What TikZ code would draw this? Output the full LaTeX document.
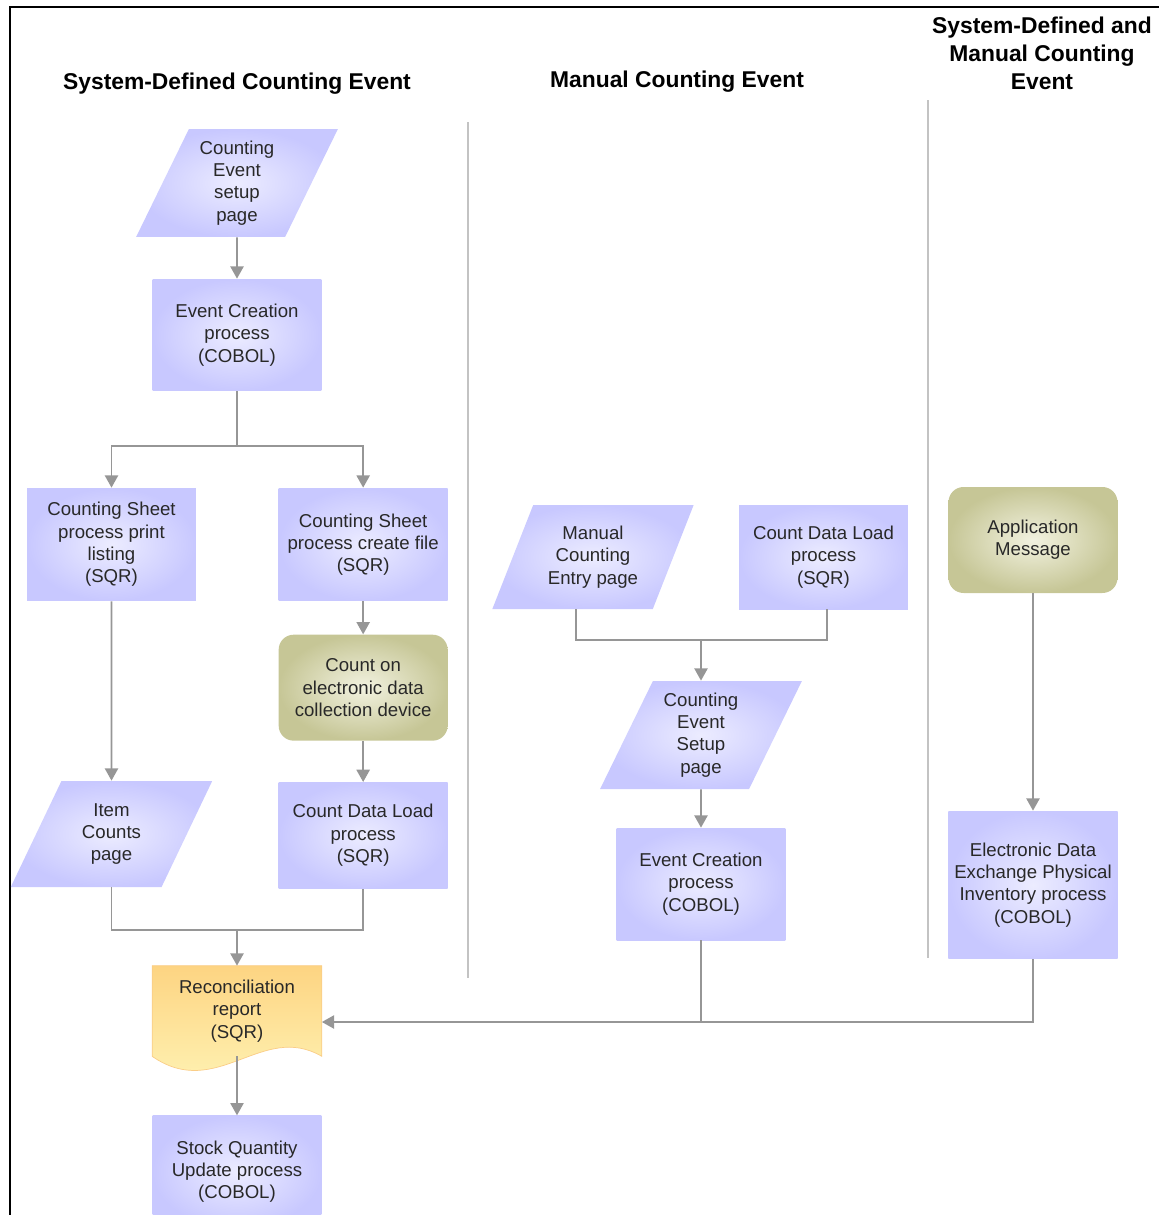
\documentclass[tikz,border=0pt]{standalone}
\usepackage{fontspec}
\setmainfont{Liberation Sans}
\usepackage{tikz}
\usetikzlibrary{arrows.meta,positioning,shapes.geometric,backgrounds,calc}
\definecolor{lavin}{RGB}{236,236,255}
\definecolor{lavout}{RGB}{200,200,255}
\definecolor{olvin}{RGB}{242,242,224}
\definecolor{olvout}{RGB}{198,198,150}
\definecolor{doctop}{RGB}{253,212,130}
\definecolor{docbot}{RGB}{255,246,185}
\definecolor{docedge}{RGB}{250,205,135}
\definecolor{flowgray}{RGB}{150,150,150}
\definecolor{sepgray}{RGB}{195,195,195}
\definecolor{ink}{RGB}{40,40,40}

\begin{document}
\begin{tikzpicture}[
  x=0.02cm, y=-0.02cm,
  every node/.style={font=\fontsize{10.6}{12.7}\selectfont, text=ink},
  proc/.style={rectangle, shade, inner color=lavin, outer color=lavout, minimum width=3.38cm, minimum height=2.24cm, align=center},
  page/.style={trapezium, trapezium left angle=64, trapezium right angle=116, trapezium stretches=true, shade, inner color=lavin, outer color=lavout, minimum width=4.05cm, minimum height=2.16cm, align=center, inner sep=1pt},
  device/.style={rectangle, rounded corners=0.3cm, shade, inner color=olvin, outer color=olvout, minimum width=3.38cm, minimum height=2.12cm, align=center},
  report/.style={rectangle, minimum width=3.38cm, minimum height=1.8cm, align=center},
  title/.style={font=\fontsize{13}{16}\selectfont\bfseries, text=black, align=center},
  flow/.style={draw=flowgray, line width=1.1pt},
  arr/.style={flow, -{Triangle[length=7pt,width=7.5pt]}},
  sep/.style={draw=sepgray, line width=1.1pt}
]
\useasboundingbox (0,0) rectangle (1159,1215);
\draw[line width=1.1pt] (1159,7) -- (10,7) -- (10,1215);

% column headings
\node[title] (t1) at (237,84) {System-Defined Counting Event};
\node[title] (t2) at (677,82) {Manual Counting Event};
\node[title] (t3) at (1042,53) {System-Defined and\\Manual Counting\\Event};
\draw[sep] (468,122) -- (468,978);
\draw[sep] (928,100) -- (928,958);

% system-defined
\node[page] (p1) at (237,183) {Counting\\Event\\setup\\page};
\node[proc] (r1) at (237,335) {Event Creation\\process\\(COBOL)};
\node[proc, minimum height=2.26cm] (r2) at (111.5,544.5) {Counting Sheet\\process print\\listing\\(SQR)};
\node[proc, minimum height=2.26cm, right=1.64cm of r2] (r3) {Counting Sheet\\process create file\\(SQR)};
\node[device, below=0.66cm of r3] (o1) {Count on\\electronic data\\collection device};
\node[proc, minimum height=2.12cm, below=0.82cm of o1] (r4) {Count Data Load\\process\\(SQR)};
\node[page, minimum height=2.12cm] (p2) at (111.5,834) {Item\\Counts\\page};
\node[report] (doc) at (237,1011) {Reconciliation\\report\\(SQR)};
\node[proc, below=1.18cm of doc] (r5) {Stock Quantity\\Update process\\(COBOL)};
\begin{scope}[on background layer]
  \draw[docedge, top color=doctop, bottom color=docbot] (doc.south west) -- (doc.north west) -- (doc.north east) -- (doc.south east)
    .. controls +(-1.2cm,0.7cm) and +(1.3cm,-0.9cm) .. (doc.south west) -- cycle;
\end{scope}

% manual
\node[page, minimum height=2.08cm] (p3) at (593,557) {Manual\\Counting\\Entry page};
\node[proc, minimum height=2.08cm] (r6) at (823.5,557) {Count Data Load\\process\\(SQR)};
\node[page] (p4) at (701,735) {Counting\\Event\\Setup\\page};
\node[proc] (r7) at (701,884) {Event Creation\\process\\(COBOL)};

% both
\node[device] (o2) at (1033,540) {Application\\Message};
\node[proc, minimum height=2.96cm] (r8) at (1033,885) {Electronic Data\\Exchange Physical\\Inventory process\\(COBOL)};

\coordinate (s1) at (237,446);
\coordinate (j1) at (237,930);
\coordinate (j2) at (701,640);
\coordinate (j3) at (701,1022);

\draw[arr] (p1) -- (r1);
\draw[flow] (r1) -- (s1);
\draw[arr] (s1) -| (r2);
\draw[arr] (s1) -| (r3);
\draw[arr] (r2) -- (p2);
\draw[arr] (r3) -- (o1);
\draw[arr] (o1) -- (r4);
\draw[flow] (p2) |- (j1) -| (r4);
\draw[arr] (j1) -- (doc);
\draw[arr] (doc.south) -- (r5);

\draw[flow] ([xshift=-0.34cm]p3.south) |- (j2) -| ([xshift=0.07cm]r6.south);
\draw[arr] (j2) -- (p4);
\draw[arr] (p4) -- (r7);
\draw[flow] (r7) -- (j3);
\draw[arr] (o2) -- (r8);
\draw[arr] (r8) |- (j3) -- (j3 -| doc.east);
\end{tikzpicture}
\end{document}
